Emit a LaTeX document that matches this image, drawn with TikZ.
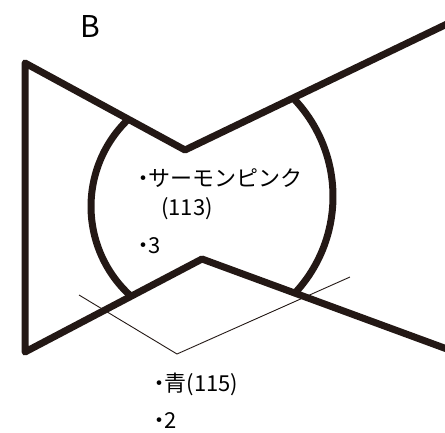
\documentclass[tikz,border=0pt]{standalone}
\usepackage{fontspec}
\newfontfamily\jp{Noto Sans CJK JP}
\definecolor{ink}{HTML}{231815}
\newcommand{\dotmark}{\makebox[11pt][c]{・}}
\tikzset{
  thick line/.style={draw=ink, line width=7pt, line join=round, line cap=round},
  thin line/.style={draw=ink, line width=0.9pt},
  label text/.style={anchor=base west, inner sep=0pt, text=black, font=\jp\fontsize{22}{26}\selectfont},
}
\begin{document}
\begin{tikzpicture}[x=1pt, y=-1pt]
\useasboundingbox (0,0) rectangle (445,432);
% key points
\coordinate (tl) at (25,63);
\coordinate (bl) at (25,352);
\coordinate (v1) at (185,150);
\coordinate (v2) at (202,259);
\coordinate (ur) at (447,24);
\coordinate (lr) at (447,349);
\coordinate (t1) at (79,295);
\coordinate (t2) at (177,354);
\coordinate (t3) at (350,277);
% thin plane lines
\draw[thin line] (t1) -- (t2) -- (t3);
% bow shape
\draw[thick line] (ur) -- (v1) -- (tl) -- (bl) -- (v2) -- (lr);
% arcs
\draw[thick line, line cap=butt] plot[smooth, domain=132:227, samples=40] ({211.7+120.7*cos(\x)}, {206.5+120.7*sin(\x)});
\draw[thick line, line cap=butt] plot[smooth, domain=-44:43, samples=40] ({191.5+141.5*cos(\x)}, {196.5+141.5*sin(\x)});
% texts
\node[label text, font=\jp\fontsize{30}{34}\selectfont] (B) at (80,37) {B};
\node[label text] (n1) at (137.5,186) {\dotmark サーモンピンク};
\node[label text] (n2) at (161,215) {(113)};
\node[label text] (n3) at (137.5,253) {\dotmark 3};
\node[label text] (n4) at (153.5,391) {\dotmark 青(115)};
\node[label text] (n5) at (153.5,428) {\dotmark 2};
\end{tikzpicture}
\end{document}
